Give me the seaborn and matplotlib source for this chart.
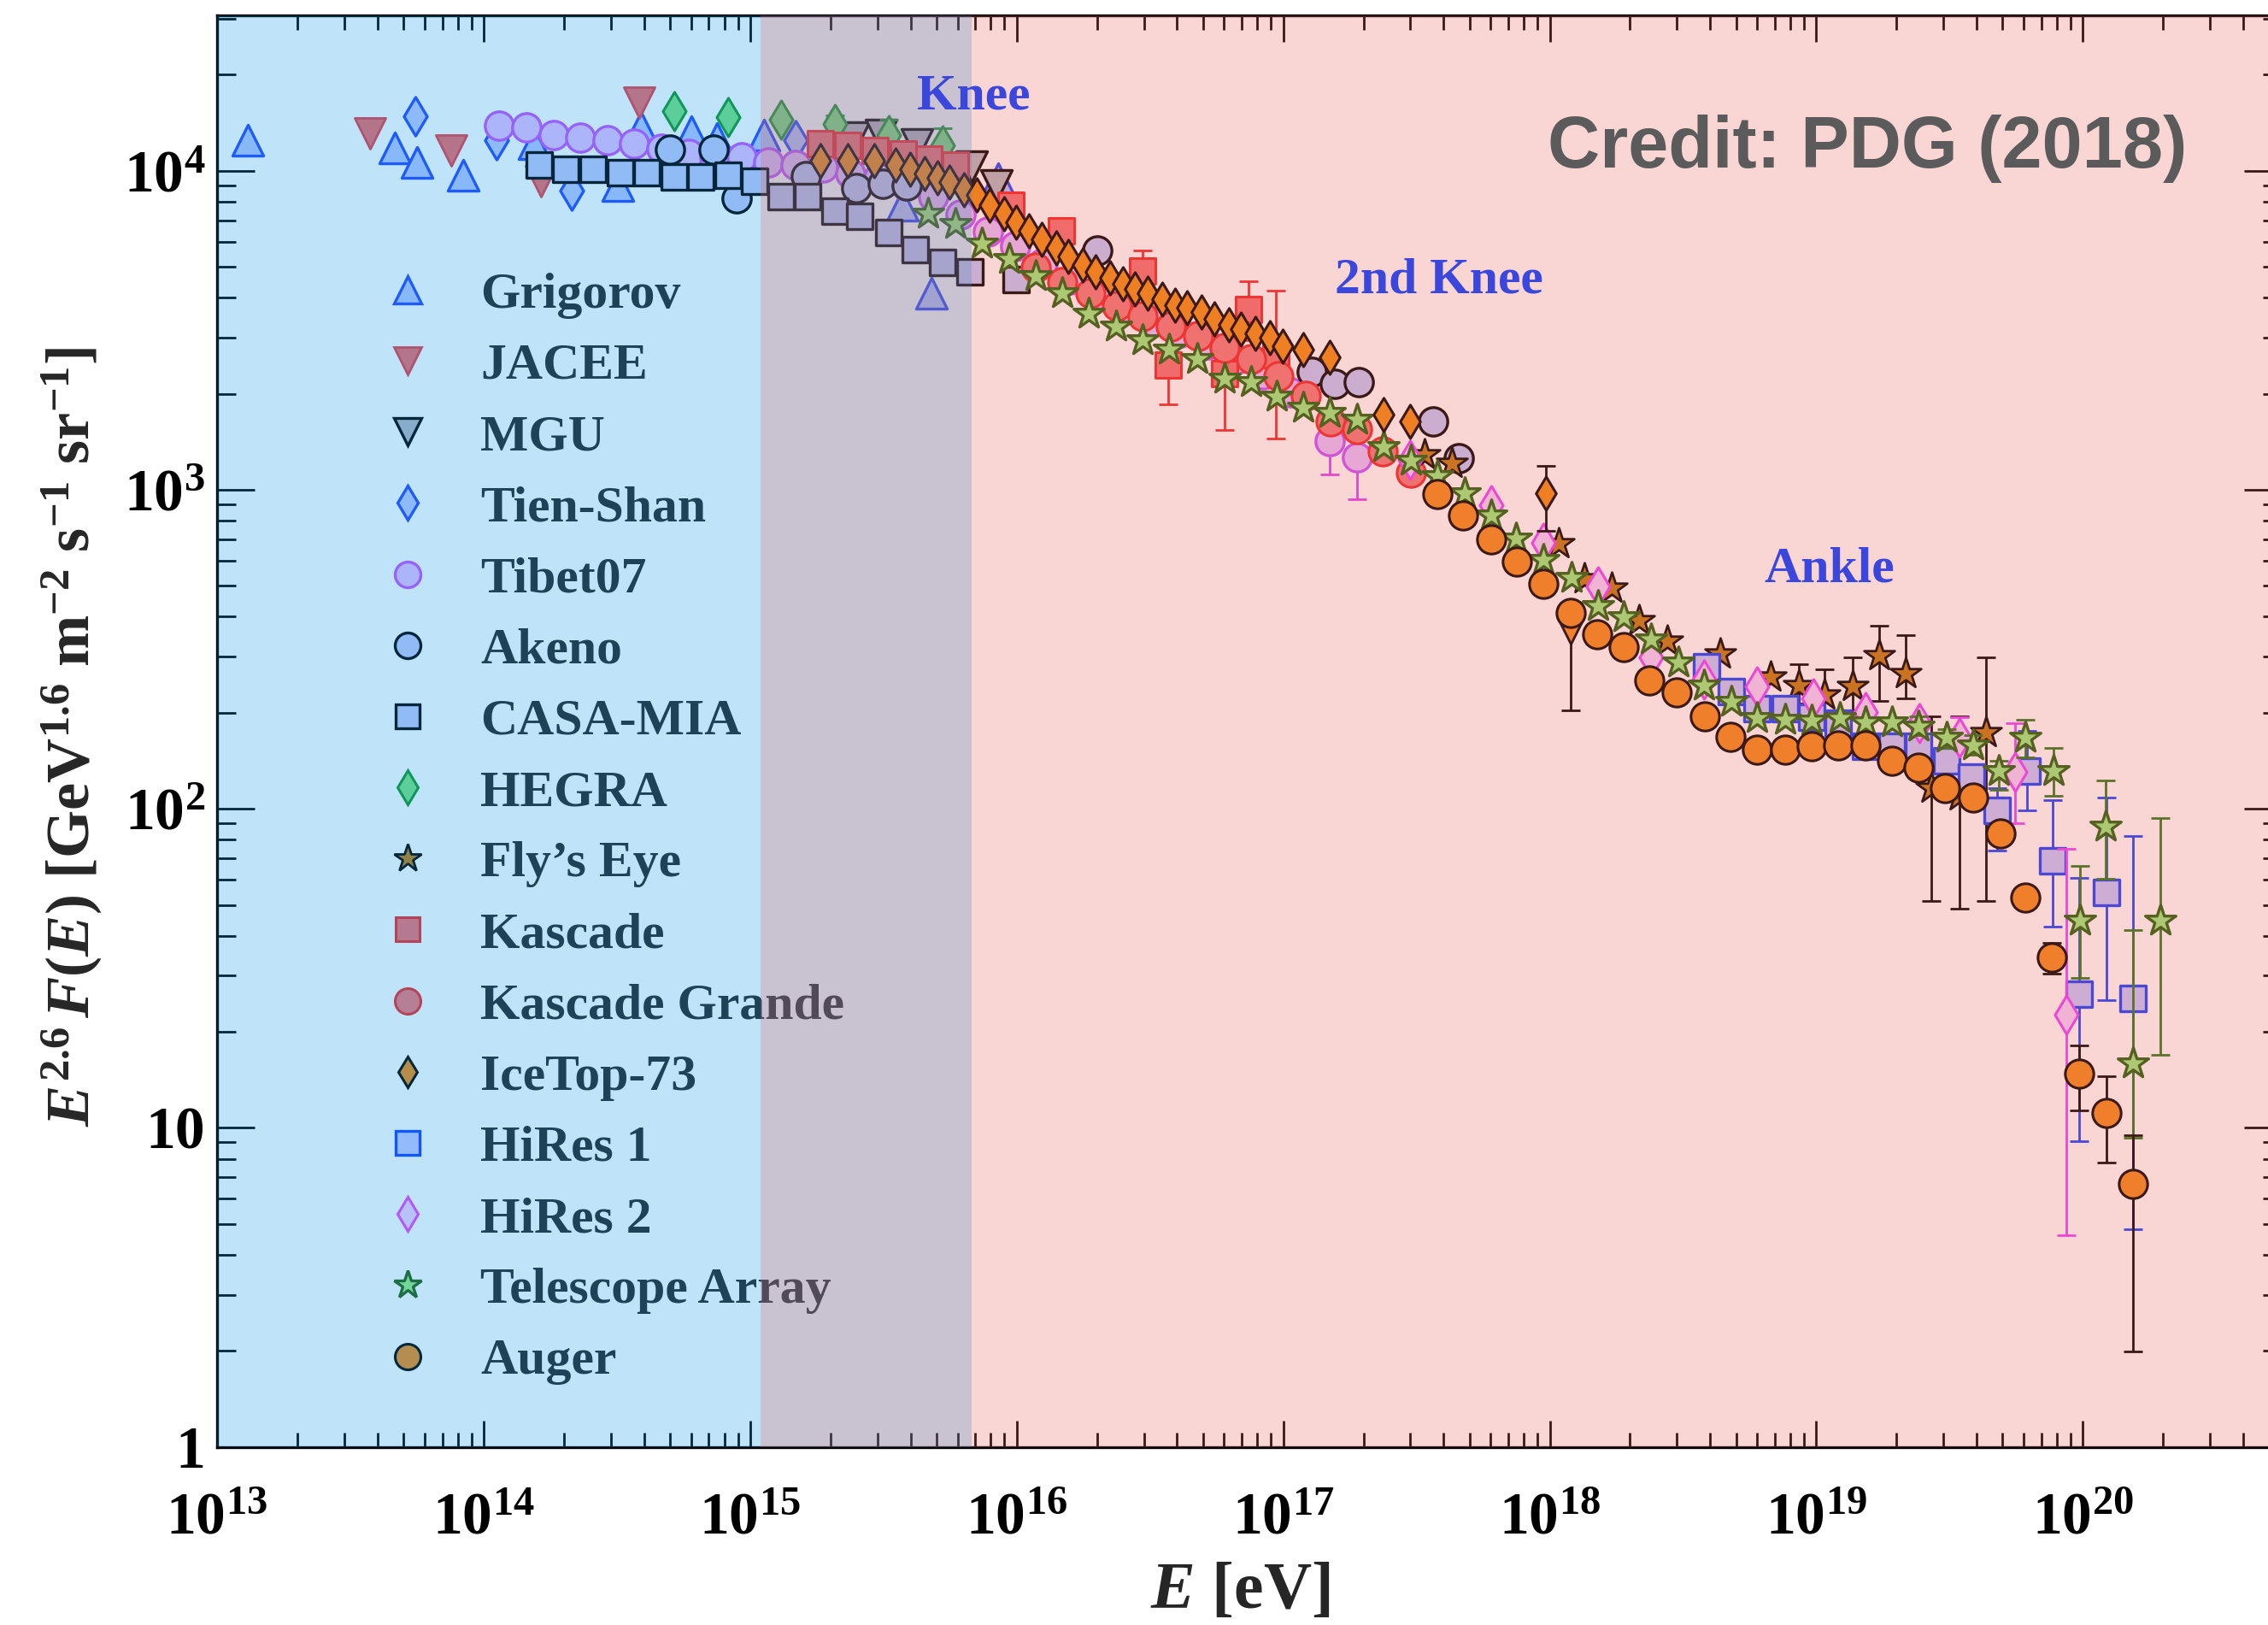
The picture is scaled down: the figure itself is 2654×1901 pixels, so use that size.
import numpy as np
import matplotlib
matplotlib.use("Agg")
import matplotlib.pyplot as plt
from matplotlib.lines import Line2D
from matplotlib.ticker import FixedLocator, LogLocator, NullFormatter
from matplotlib.font_manager import FontProperties
import seaborn as sns

# ---------------- data (log10 E [eV], log10 E^2.6 F(E)) ----------------
grigorov_logE = [13.114, 13.667, 13.749, 13.922, 14.188, 14.503, 14.590, 14.780, 14.877, 15.051, 15.572, 15.680, 15.930]
grigorov_logF = [4.095, 4.073, 4.027, 3.986, 4.086, 3.955, 4.136, 4.122, 4.100, 4.113, 3.891, 3.615, 3.975]

jacee_logE = [13.575, 13.879, 14.215, 14.584]
jacee_logF = [4.118, 4.063, 3.968, 4.213]

mgu_logE = [15.387, 15.490, 15.626, 15.832, 15.925]
mgu_logF = [4.104, 4.113, 4.082, 4.014, 3.955]

tienshan_logE = [13.743, 14.047, 14.329, 15.170]
tienshan_logF = [4.172, 4.095, 3.937, 4.095]

tibet_logE = [14.058, 14.161, 14.264, 14.362, 14.465, 14.563, 14.666, 14.769, 14.867, 14.970,
              15.067, 15.170, 15.274, 15.377, 15.480, 15.583, 15.686, 15.789, 15.892, 15.995,
              16.098, 16.201, 16.304, 16.408, 16.511, 16.614, 16.717, 16.820, 16.923, 17.026,
              17.173, 17.276]
tibet_logF = [4.141, 4.136, 4.113, 4.104, 4.095, 4.086, 4.068, 4.054, 4.045, 4.041,
              4.027, 4.018, 4.009, 3.991, 3.977, 3.955, 3.918, 3.864, 3.810, 3.764,
              3.710, 3.660, 3.610, 3.569, 3.528, 3.492, 3.456, 3.406, 3.361, 3.306,
              3.152, 3.102]
tibet_err_idx = [30, 31]
tibet_err_lo = [3.048, 2.971]
tibet_err_hi = [3.197, 3.175]

akeno_logE = [14.698, 14.863, 14.950, 15.208, 15.398, 15.499, 15.588, 16.302, 17.106, 17.193, 17.283, 17.562, 17.657]
akeno_logF = [4.066, 4.066, 3.914, 3.982, 3.946, 3.959, 3.955, 3.751, 3.370, 3.333, 3.338, 3.214, 3.098]

casamia_logE = [14.208, 14.309, 14.410, 14.512, 14.613, 14.714, 14.815, 14.916, 15.017, 15.115,
                15.216, 15.317, 15.412, 15.520, 15.621, 15.722, 15.823, 15.999]
casamia_logF = [4.017, 4.004, 4.004, 3.995, 3.995, 3.981, 3.981, 3.986, 3.968, 3.919,
                3.919, 3.874, 3.856, 3.807, 3.754, 3.713, 3.683, 3.660]

hegra_logE = [14.714, 14.916, 15.115, 15.317, 15.520, 15.722]
hegra_logF = [4.187, 4.169, 4.160, 4.146, 4.111, 4.080]
hegra_err_idx = [3, 4, 5]
hegra_err_lo = [4.119, 4.062, 4.027]
hegra_err_hi = [4.173, 4.160, 4.133]

flyseye_logE = [17.531, 17.634, 18.033, 18.130, 18.231, 18.336, 18.440, 18.638, 18.830, 18.933,
                19.031, 19.137, 19.236, 19.334, 19.431, 19.538, 19.636]
flyseye_logF = [3.111, 3.084, 2.830, 2.721, 2.692, 2.590, 2.526, 2.485, 2.413, 2.387,
                2.356, 2.383, 2.481, 2.423, 2.064, 2.041, 2.240]
flyseye_err_idx = [9, 10, 11, 12, 13, 14, 15, 16]
flyseye_err_lo = [2.330, 2.300, 2.304, 2.338, 2.347, 1.710, 1.687, 1.710]
flyseye_err_hi = [2.454, 2.436, 2.476, 2.574, 2.544, 2.290, 2.290, 2.476]

kascade_logE = [15.263, 15.366, 15.469, 15.574, 15.670, 15.769, 15.979, 16.169, 16.473, 16.570, 16.780, 16.871, 16.972]
kascade_logF = [4.084, 4.079, 4.063, 4.053, 4.036, 4.017, 3.892, 3.812, 3.687, 3.392, 3.365, 3.565, 3.424]
kascade_err_idx = [8, 9, 10, 11, 12]
kascade_err_lo = [3.628, 3.268, 3.188, 3.469, 3.161]
kascade_err_hi = [3.749, 3.492, 3.447, 3.655, 3.624]

kgrande_logE = [16.071, 16.172, 16.277, 16.375, 16.473, 16.577, 16.682, 16.780, 16.878, 16.982,
                17.086, 17.178, 17.277, 17.373, 17.479]
kgrande_logF = [3.696, 3.651, 3.615, 3.575, 3.544, 3.512, 3.481, 3.445, 3.410, 3.356,
                3.294, 3.213, 3.191, 3.120, 3.053]

icetop_logE = [15.264, 15.365, 15.466, 15.547, 15.601, 15.655, 15.702, 15.749, 15.803, 15.850,
               15.897, 15.952, 15.999, 16.046, 16.093, 16.147, 16.194, 16.249, 16.296, 16.349,
               16.397, 16.444, 16.492, 16.545, 16.593, 16.640, 16.693, 16.741, 16.795, 16.842,
               16.896, 16.950, 16.999, 17.075, 17.175, 17.375, 17.476, 17.984]
icetop_logF = [4.031, 4.031, 4.031, 4.017, 4.004, 3.990, 3.977, 3.964, 3.941, 3.923,
               3.892, 3.865, 3.839, 3.812, 3.785, 3.758, 3.732, 3.704, 3.683, 3.664,
               3.646, 3.629, 3.615, 3.597, 3.580, 3.571, 3.557, 3.535, 3.517, 3.504,
               3.490, 3.477, 3.450, 3.440, 3.415, 3.236, 3.215, 2.989]
icetop_err_idx = [37]
icetop_err_lo = [2.871]
icetop_err_hi = [3.075]

hires1_logE = [18.589, 18.681, 18.777, 18.884, 18.982, 19.083, 19.186, 19.283, 19.383, 19.489,
               19.582, 19.679, 19.791, 19.886, 19.987, 20.088, 20.189]
hires1_logF = [2.445, 2.367, 2.313, 2.313, 2.286, 2.268, 2.195, 2.195, 2.195, 2.150,
               2.100, 1.996, 2.118, 1.837, 1.420, 1.739, 1.406]
hires1_err_idx = [10, 11, 12, 13, 14, 15, 16]
hires1_err_lo = [2.060, 1.869, 1.996, 1.631, 0.958, 1.401, 0.682]
hires1_err_hi = [2.140, 2.064, 2.245, 2.027, 1.784, 2.034, 1.916]

hires2_logE = [17.476, 17.780, 17.976, 18.182, 18.381, 18.578, 18.777, 18.990, 19.186, 19.386, 19.538, 19.745, 19.938]
hires2_logF = [3.093, 2.952, 2.834, 2.698, 2.476, 2.404, 2.383, 2.347, 2.304, 2.268, 2.222, 2.116, 1.355]
hires2_err_idx = [10, 11, 12]
hires2_err_lo = [2.190, 1.955, 0.663]
hires2_err_hi = [2.286, 2.268, 1.874]

ta_logE = [15.667, 15.769, 15.870, 15.972, 16.071, 16.172, 16.269, 16.372, 16.473, 16.571,
           16.676, 16.780, 16.878, 16.976, 17.074, 17.175, 17.277, 17.375, 17.479, 17.577,
           17.682, 17.780, 17.873, 17.976, 18.081, 18.180, 18.278, 18.379, 18.482, 18.580,
           18.680, 18.779, 18.884, 18.982, 19.088, 19.186, 19.284, 19.383, 19.488, 19.587,
           19.685, 19.783, 19.889, 19.988, 20.086, 20.189, 20.290]
ta_logF = [3.865, 3.834, 3.771, 3.723, 3.669, 3.615, 3.551, 3.512, 3.469, 3.438,
           3.410, 3.347, 3.338, 3.293, 3.258, 3.240, 3.220, 3.133, 3.091, 3.043,
           2.990, 2.919, 2.847, 2.780, 2.724, 2.635, 2.601, 2.530, 2.458, 2.387,
           2.336, 2.284, 2.280, 2.276, 2.284, 2.271, 2.271, 2.258, 2.222, 2.200,
           2.119, 2.222, 2.119, 1.650, 1.945, 1.201, 1.650]
ta_err_idx = [37, 38, 39, 40, 41, 42, 43, 44, 45, 46]
ta_err_lo = [2.23, 2.19, 2.17, 2.06, 2.16, 2.04, 1.47, 1.78, 0.97, 1.23]
ta_err_hi = [2.29, 2.25, 2.23, 2.15, 2.28, 2.19, 1.82, 2.09, 1.62, 1.97]

auger_logE = [17.577, 17.676, 17.780, 17.878, 17.976, 18.080, 18.179, 18.277, 18.375, 18.477,
              18.582, 18.679, 18.777, 18.884, 18.982, 19.083, 19.186, 19.284, 19.383, 19.482,
              19.587, 19.690, 19.783, 19.885, 19.987, 20.088, 20.189]
auger_logF = [2.986, 2.919, 2.844, 2.776, 2.704, 2.615, 2.548, 2.508, 2.403, 2.365,
              2.291, 2.225, 2.186, 2.186, 2.197, 2.200, 2.200, 2.151, 2.128, 2.066,
              2.035, 1.924, 1.721, 1.534, 1.169, 1.047, 0.823]
auger_err_idx = [22, 23, 24, 25, 26]
auger_err_lo = [1.700, 1.483, 1.054, 0.891, 0.298]
auger_err_hi = [1.740, 1.580, 1.259, 1.163, 0.977]

extra_logE = [18.080]
extra_logF = [2.558]
extra_err_lo = [2.308]
extra_err_hi = [2.630]

legend_labels = ["Grigorov", "JACEE", "MGU", "Tien-Shan", "Tibet07", "Akeno", "CASA-MIA", "HEGRA",
                 "Fly\u2019s Eye", "Kascade", "Kascade Grande", "IceTop-73", "HiRes 1", "HiRes 2",
                 "Telescope Array", "Auger"]

x_tick_exponents = [13, 14, 15, 16, 17, 18, 19, 20, 21]
y_tick_values = [1, 10, 100, 1000, 10000]
y_tick_labels = ["1", "10", r"$10^{2}$", r"$10^{3}$", r"$10^{4}$"]

band_blue = (13.0, 15.830)
band_pink = (15.038, 20.746)

# ---------------- styling ----------------
sns.set_style("ticks")
plt.rcParams["font.family"] = ["Liberation Serif", "DejaVu Serif"]
plt.rcParams["font.weight"] = "bold"
plt.rcParams["mathtext.fontset"] = "custom"
plt.rcParams["mathtext.rm"] = "Liberation Serif:bold"
plt.rcParams["mathtext.it"] = "Liberation Serif:italic:bold"
plt.rcParams["mathtext.bf"] = "Liberation Serif:bold"

fig = plt.figure(figsize=(26.54, 19.01), dpi=100)
fig.patch.set_facecolor("white")
ax = fig.add_axes([254 / 2654, 1 - 1692.6 / 1901, (2670 - 254) / 2654, (1692.6 - 18) / 1901])
ax.set_facecolor("white")
ax.set_xscale("log")
ax.set_yscale("log")
ax.set_xlim(1e13, 10 ** band_pink[1])
ax.set_ylim(1, 10 ** 4.487)

series = [
    # label, logE, logF, marker, size, face, edge, mew, zorder, err(idx, lo, hi), ecolor
    ("Grigorov", grigorov_logE, grigorov_logF, "^", 26, "#b4c6ff", "#2846ff", 2.4, 3.00, None, None),
    ("JACEE", jacee_logE, jacee_logF, "v", 26, "#f06a6a", "#e83c46", 2.0, 3.01, None, None),
    ("MGU", mgu_logE, mgu_logF, "v", 26, "#b4b6c0", "#000000", 2.4, 3.02, None, None),
    ("Tien-Shan", tienshan_logE, tienshan_logF, "d", 23, "#bcc8ff", "#2846ff", 2.4, 3.03, None, None),
    ("Tibet07", tibet_logE, tibet_logF, "o", 24, "#e6c0ff", "#c850ff", 2.4, 3.04,
     (tibet_err_idx, tibet_err_lo, tibet_err_hi), "#e040f0"),
    ("Akeno", akeno_logE, akeno_logF, "o", 24, "#c0c8f8", "#000000", 2.4, 3.05, None, None),
    ("CASA-MIA", casamia_logE, casamia_logF, "s", 22, "#c0c8f8", "#000000", 2.4, 3.06, None, None),
    ("HEGRA", hegra_logE, hegra_logF, "d", 23, "#7ae27e", "#149628", 2.2, 3.07,
     (hegra_err_idx, hegra_err_lo, hegra_err_hi), "#149628"),
    ("Kascade", kascade_logE, kascade_logF, "s", 22, "#f27070", "#f02828", 2.2, 3.08,
     (kascade_err_idx, kascade_err_lo, kascade_err_hi), "#f02828"),
    ("Kascade Grande", kgrande_logE, kgrande_logF, "o", 24, "#f27878", "#f02828", 2.2, 3.09, None, None),
    ("Fly\u2019s Eye", flyseye_logE, flyseye_logF, "*", 27, "#c07a10", "#000000", 2.0, 3.10,
     (flyseye_err_idx, flyseye_err_lo, flyseye_err_hi), "#000000"),
    ("HiRes 1", hires1_logE, hires1_logF, "s", 22, "#c4c8ff", "#1440ff", 2.4, 3.11,
     (hires1_err_idx, hires1_err_lo, hires1_err_hi), "#1440ff"),
    ("HiRes 2", hires2_logE, hires2_logF, "d", 23, "#f4d0ff", "#f040ff", 2.2, 3.12,
     (hires2_err_idx, hires2_err_lo, hires2_err_hi), "#f040ff"),
    ("Telescope Array", ta_logE, ta_logF, "*", 27, "#98ec7c", "#24600e", 2.4, 3.13,
     (ta_err_idx, ta_err_lo, ta_err_hi), "#2a7a18"),
    ("IceTop-73", icetop_logE, icetop_logF, "d", 20, "#f28a10", "#000000", 2.2, 3.14,
     (icetop_err_idx, icetop_err_lo, icetop_err_hi), "#000000"),
    ("Auger", auger_logE, auger_logF, "o", 24, "#f28a1a", "#000000", 2.2, 3.15,
     (auger_err_idx, auger_err_lo, auger_err_hi), "#000000"),
]

style_by_label = {}
for (label, lE, lF, mk, ms, fc, ec, mew, z, err, ecol) in series:
    E = 10 ** np.array(lE)
    F = 10 ** np.array(lF)
    if err is not None:
        idx, lo, hi = err
        idx = np.array(idx)
        Fe = F[idx]
        ax.errorbar(E[idx], Fe, yerr=[Fe - 10 ** np.array(lo), 10 ** np.array(hi) - Fe],
                    fmt="none", ecolor=ecol, elinewidth=2.0, capsize=8, capthick=2.0, zorder=z - 0.005)
    sns.scatterplot(x=E, y=F, ax=ax, marker=mk, s=ms ** 2, color=fc, edgecolor=ec,
                    linewidth=mew, zorder=z, legend=False)
    style_by_label[label] = (mk, ms, fc, ec, mew)

# unlabeled extra point (orange down triangle with long error bar)
Ex = 10 ** np.array(extra_logE)
Fx = 10 ** np.array(extra_logF)
ax.errorbar(Ex, Fx, yerr=[Fx - 10 ** np.array(extra_err_lo), 10 ** np.array(extra_err_hi) - Fx],
            fmt="none", ecolor="#000000", elinewidth=2.0, capsize=8, capthick=2.0, zorder=3.145)
sns.scatterplot(x=Ex, y=Fx, ax=ax, marker="v", s=22 ** 2, color="#f28a1a", edgecolor="#000000",
                linewidth=2.0, zorder=3.146, legend=False)

# ---------------- ticks ----------------
ax.xaxis.set_major_locator(FixedLocator([10.0 ** e for e in x_tick_exponents]))
ax.set_xticklabels([r"$10^{%d}$" % e for e in x_tick_exponents])
ax.xaxis.set_minor_locator(LogLocator(base=10, subs=np.arange(2, 10), numticks=30))
ax.xaxis.set_minor_formatter(NullFormatter())
ax.yaxis.set_major_locator(FixedLocator(y_tick_values))
ax.set_yticklabels(y_tick_labels)
ax.yaxis.set_minor_locator(LogLocator(base=10, subs=np.arange(2, 10), numticks=30))
ax.yaxis.set_minor_formatter(NullFormatter())
ax.set_xlim(1e13, 10 ** band_pink[1])
ax.set_ylim(1, 10 ** 4.487)

ax.tick_params(axis="both", which="both", direction="in", top=True, right=True, width=2.0, colors="black")
ax.tick_params(axis="x", which="major", length=22, pad=38, labelsize=50)
ax.tick_params(axis="x", which="minor", length=12)
ax.tick_params(axis="y", which="major", length=32, pad=10, labelsize=50)
ax.tick_params(axis="y", which="minor", length=16)
for sp in ax.spines.values():
    sp.set_linewidth(2.4)
    sp.set_color("black")

# ---------------- legend ----------------
handles = []
for lab in legend_labels:
    mk, ms, fc, ec, mew = style_by_label[lab]
    handles.append(Line2D([0], [0], ls="none", marker=mk, markersize=ms * 0.9, markerfacecolor=fc,
                          markeredgecolor=ec, markeredgewidth=mew))
leg = ax.legend(handles, legend_labels, loc="upper left",
                bbox_to_anchor=(447 / 2654, 1 - 318 / 1901), bbox_transform=fig.transFigure,
                frameon=False, prop=FontProperties(family="Liberation Serif", weight="bold", size=43),
                handlelength=1.0, handletextpad=0.93, labelspacing=0.475, borderpad=0,
                borderaxespad=0, numpoints=1)
leg.set_zorder(5)

# ---------------- translucent energy bands drawn over everything in the axes ----------------
ax.axvspan(10 ** band_blue[0], 10 ** band_blue[1], facecolor="#0997ec", alpha=0.26, lw=0, zorder=10)
ax.axvspan(10 ** band_pink[0], 10 ** band_pink[1], facecolor="#e8615a", alpha=0.26, lw=0, zorder=10.1)

# ---------------- annotations ----------------
ann_font = dict(family="Liberation Serif", weight="bold", size=43, color="#3a46dc",
                ha="center", va="center", zorder=20)
ax.text(10 ** 15.838, 10 ** 4.232, "Knee", **ann_font)
ax.text(10 ** 17.585, 10 ** 3.655, "2nd Knee", **ann_font)
ax.text(10 ** 19.050, 10 ** 2.750, "Ankle", **ann_font)
ax.text(10 ** 19.191, 10 ** 4.068, "Credit: PDG (2018)", family="Liberation Sans", weight="bold",
        size=61, color="#5b5b5b", ha="center", va="center", zorder=20)

# ---------------- axis labels ----------------
fig.text(84 / 2654, 1 - 862 / 1901,
         r"$E^{2.6}\,F(E)$ [GeV$^{1.6}$ m$^{-2}$ s$^{-1}$ sr$^{-1}$]",
         rotation=90, ha="center", va="center", fontsize=52, fontweight="bold")
fig.text(1451 / 2654, 1 - 1862 / 1901, r"$E$ [eV]", ha="center", va="center",
         fontsize=56, fontweight="bold")

fig.savefig("out.png", dpi=100)
